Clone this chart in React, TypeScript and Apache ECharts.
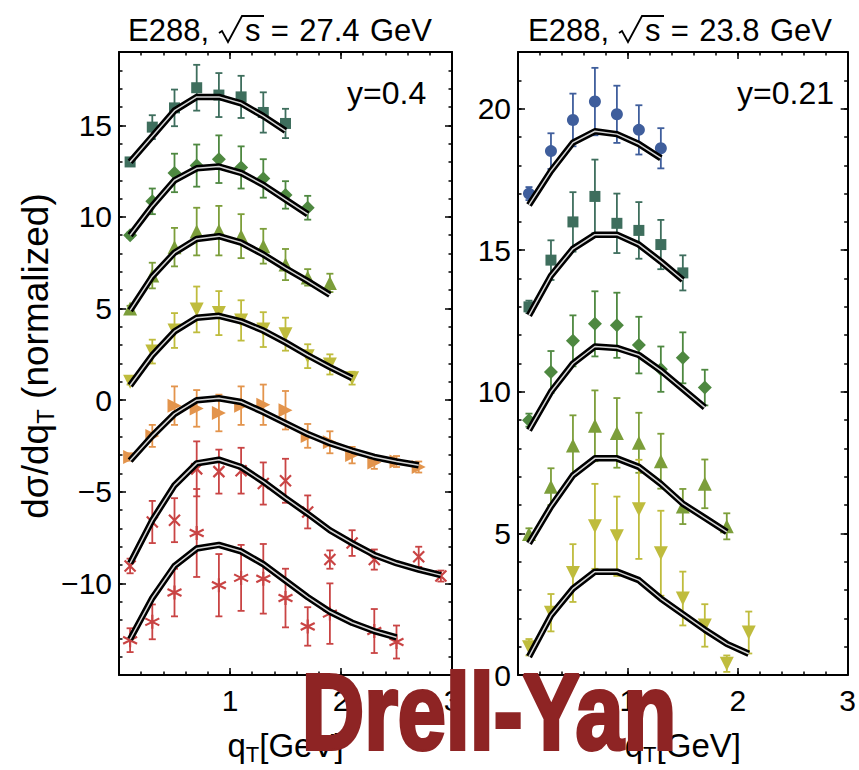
import React, { useEffect, useRef } from 'react';
import * as echarts from 'echarts';

const FONT = '"Liberation Sans", Arial, Helvetica, sans-serif';

// ---------- Left panel: E288, sqrt(s)=27.4 GeV, y=0.4 ----------
const L1_X = [0.1, 0.3, 0.5, 0.7, 0.9, 1.1, 1.3, 1.5];
const L1_V = [13.0, 14.9, 15.95, 17.05, 16.65, 16.55, 15.7, 15.1];
const L1_E = [0.15, 0.65, 1.0, 1.25, 1.2, 1.15, 1.1, 0.8];
const L1_C = [13.0, 14.4, 15.8, 16.55, 16.55, 16.2, 15.5, 14.7];

const L2_X = [0.1, 0.3, 0.5, 0.7, 0.9, 1.1, 1.3, 1.5, 1.7];
const L2_V = [9.0, 10.85, 12.4, 12.8, 13.15, 12.7, 12.1, 11.2, 10.5];
const L2_E = [0.15, 0.7, 1.05, 1.15, 1.3, 1.15, 1.05, 0.75, 0.65];
const L2_C = [9.0, 10.6, 12.0, 12.65, 12.75, 12.4, 11.75, 10.95, 10.15];

const L3_X = [0.1, 0.3, 0.5, 0.7, 0.9, 1.1, 1.3, 1.5, 1.7, 1.9];
const L3_V = [5.0, 6.8, 8.35, 9.2, 9.25, 8.95, 8.4, 7.4, 6.7, 6.4];
const L3_E = [0.15, 0.7, 1.05, 1.3, 1.35, 1.2, 0.95, 0.85, 0.45, 0.5];
const L3_C = [4.9, 6.75, 8.05, 8.8, 8.95, 8.6, 7.95, 7.2, 6.5, 5.75];

const L4_X = [0.1, 0.3, 0.5, 0.7, 0.9, 1.1, 1.3, 1.5, 1.7, 1.9, 2.1];
const L4_V = [1.0, 2.65, 3.8, 4.95, 4.75, 4.35, 3.85, 3.6, 2.4, 1.95, 1.2];
const L4_E = [0.15, 0.65, 0.95, 1.25, 1.2, 1.1, 0.95, 0.9, 0.65, 0.55, 0.35];
const L4_C = [0.8, 2.45, 3.75, 4.5, 4.6, 4.3, 3.8, 3.15, 2.45, 1.8, 1.2];

const L5_X = [0.1, 0.3, 0.5, 0.7, 0.9, 1.1, 1.3, 1.5, 1.7, 1.9, 2.1, 2.3, 2.5, 2.7];
const L5_V = [-3.1, -1.95, -0.3, -0.45, -0.7, -0.3, -0.25, -0.55, -1.95, -2.3, -3.0, -3.4, -3.35, -3.65];
const L5_E = [0.2, 0.6, 1.05, 1.0, 1.0, 1.05, 1.1, 1.05, 0.65, 0.6, 0.45, 0.35, 0.3, 0.3];
const L5_C = [-3.3, -1.95, -0.75, 0.0, 0.1, -0.1, -0.65, -1.25, -1.85, -2.35, -2.75, -3.1, -3.35, -3.55];

const L6_X = [0.1, 0.3, 0.5, 0.7, 0.9, 1.1, 1.3, 1.5, 1.7, 1.9, 2.1, 2.3, 2.7, 2.9];
const L6_V = [-9.05, -6.65, -6.55, -3.75, -3.9, -3.85, -4.55, -4.4, -6.1, -8.7, -7.8, -8.7, -8.55, -9.6];
const L6_E = [0.4, 1.15, 1.2, 1.5, 1.2, 1.25, 1.15, 1.2, 0.9, 0.5, 0.7, 0.55, 0.55, 0.3];
const L6_CX = [0.1, 0.3, 0.5, 0.7, 0.9, 1.1, 1.3, 1.5, 1.7, 1.9, 2.1, 2.3, 2.5, 2.7, 2.9];
const L6_C = [-8.9, -6.55, -4.65, -3.45, -3.25, -3.65, -4.45, -5.35, -6.2, -7.1, -7.8, -8.45, -8.9, -9.25, -9.55];

const L7_X = [0.1, 0.3, 0.5, 0.7, 0.9, 1.1, 1.3, 1.5, 1.7, 1.9, 2.3, 2.5];
const L7_V = [-13.1, -12.1, -10.5, -7.25, -10.1, -9.7, -9.75, -10.8, -12.35, -11.65, -12.6, -13.2];
const L7_E = [0.65, 0.95, 1.3, 2.4, 1.7, 1.8, 1.9, 1.6, 1.05, 1.65, 1.2, 0.9];
const L7_CX = [0.1, 0.3, 0.5, 0.7, 0.9, 1.1, 1.3, 1.5, 1.7, 1.9, 2.1, 2.3, 2.5];
const L7_C = [-13.05, -10.8, -9.05, -8.1, -7.9, -8.25, -8.95, -9.85, -10.75, -11.55, -12.15, -12.6, -12.95];

// ---------- Right panel: E288, sqrt(s)=23.8 GeV, y=0.21 ----------
const R1_X = [0.1, 0.3, 0.5, 0.7, 0.9, 1.1, 1.3];
const R1_V = [17.0, 18.5, 19.6, 20.25, 19.8, 19.25, 18.6];
const R1_E = [0.23, 0.63, 0.93, 1.19, 1.01, 0.87, 0.71];
const R1_C = [16.6, 17.8, 18.8, 19.2, 19.1, 18.75, 18.25];

const R2_X = [0.1, 0.3, 0.5, 0.7, 0.9, 1.1, 1.3, 1.5];
const R2_V = [13.0, 14.65, 16.0, 16.9, 15.95, 15.7, 15.2, 14.2];
const R2_E = [0.22, 0.7, 1.05, 1.3, 1.05, 1.0, 0.87, 0.62];
const R2_C = [12.7, 14.1, 15.05, 15.55, 15.55, 15.2, 14.6, 13.95];

const R3_X = [0.1, 0.3, 0.5, 0.7, 0.9, 1.1, 1.3, 1.5, 1.7];
const R3_V = [9.0, 10.7, 11.8, 12.4, 12.35, 11.65, 10.8, 11.2, 10.15];
const R3_E = [0.23, 0.74, 0.9, 1.15, 1.15, 1.0, 0.8, 0.9, 0.63];
const R3_C = [8.65, 10.0, 11.0, 11.6, 11.55, 11.3, 10.75, 10.1, 9.45];

const R4_X = [0.1, 0.3, 0.5, 0.7, 0.9, 1.1, 1.3, 1.5, 1.7, 1.9];
const R4_V = [4.98, 6.65, 8.1, 8.8, 8.55, 8.2, 7.55, 5.95, 6.75, 5.25];
const R4_E = [0.2, 0.65, 1.07, 1.25, 1.23, 1.06, 0.97, 0.62, 0.86, 0.46];
const R4_C = [4.65, 5.95, 7.05, 7.65, 7.65, 7.35, 6.75, 6.05, 5.55, 5.05];

const R5_X = [0.1, 0.3, 0.5, 0.7, 0.9, 1.1, 1.3, 1.5, 1.7, 1.9, 2.1];
const R5_V = [0.98, 2.2, 3.6, 5.25, 4.9, 5.85, 4.3, 2.7, 1.75, 0.4, 1.5];
const R5_E = [0.29, 0.66, 1.02, 1.5, 1.4, 1.75, 1.5, 0.95, 0.75, 0.29, 0.74];
const R5_C = [0.65, 2.1, 3.05, 3.65, 3.65, 3.35, 2.7, 2.15, 1.6, 1.1, 0.75];

// axis ticks
const X_TICKS = [1, 2, 3];
const L_Y_TICKS = [-10, -5, 0, 5, 10, 15];
const R_Y_TICKS = [0, 5, 10, 15, 20];

const C_SQ = '#3E6E5D';
const C_DI = '#4E8840';
const C_UP = '#7C9E3A';
const C_DN = '#BFBC3D';
const C_RT = '#E3944C';
const C_RED = '#C94444';
const C_BL = '#3F5E9C';

const CROSS = 'path://M0,0L10,10M10,0L0,10';
const STAR = 'path://M5,0L5,10M0.67,2.5L9.33,7.5M0.67,7.5L9.33,2.5';

const LEFT = [
  { xs: L1_X, v: L1_V, e: L1_E, cx: L1_X, c: L1_C, sym: 'rect', size: 11, rot: 0, color: C_SQ },
  { xs: L2_X, v: L2_V, e: L2_E, cx: L2_X, c: L2_C, sym: 'diamond', size: 14, rot: 0, color: C_DI },
  { xs: L3_X, v: L3_V, e: L3_E, cx: L3_X, c: L3_C, sym: 'triangle', size: 14, rot: 0, color: C_UP },
  { xs: L4_X, v: L4_V, e: L4_E, cx: L4_X, c: L4_C, sym: 'triangle', size: 14, rot: 180, color: C_DN },
  { xs: L5_X, v: L5_V, e: L5_E, cx: L5_X, c: L5_C, sym: 'triangle', size: 14, rot: -90, color: C_RT },
  { xs: L6_X, v: L6_V, e: L6_E, cx: L6_CX, c: L6_C, sym: CROSS, size: 11, rot: 0, color: C_RED },
  { xs: L7_X, v: L7_V, e: L7_E, cx: L7_CX, c: L7_C, sym: STAR, size: 14, rot: 0, color: C_RED },
];
const RIGHT = [
  { xs: R1_X, v: R1_V, e: R1_E, cx: R1_X, c: R1_C, sym: 'circle', size: 12, rot: 0, color: C_BL },
  { xs: R2_X, v: R2_V, e: R2_E, cx: R2_X, c: R2_C, sym: 'rect', size: 11, rot: 0, color: C_SQ },
  { xs: R3_X, v: R3_V, e: R3_E, cx: R3_X, c: R3_C, sym: 'diamond', size: 14, rot: 0, color: C_DI },
  { xs: R4_X, v: R4_V, e: R4_E, cx: R4_X, c: R4_C, sym: 'triangle', size: 14, rot: 0, color: C_UP },
  { xs: R5_X, v: R5_V, e: R5_E, cx: R5_X, c: R5_C, sym: 'triangle', size: 14, rot: 180, color: C_DN },
];

function buildSeries(sets: any[], ax: number): any[] {
  const out: any[] = [];
  sets.forEach((s) => {
    const isPath = typeof s.sym === 'string' && s.sym.indexOf('path://') === 0;
    out.push({
      type: 'custom', xAxisIndex: ax, yAxisIndex: ax, z: 2, silent: true, clip: false,
      data: s.xs.map((x: number, i: number) => [x, s.v[i] - s.e[i], s.v[i] + s.e[i]]),
      renderItem: (params: any, api: any) => {
        const lo = api.coord([api.value(0), api.value(1)]);
        const hi = api.coord([api.value(0), api.value(2)]);
        const w = 3.5;
        const st = { stroke: s.color, lineWidth: 1.8 };
        return {
          type: 'group',
          children: [
            { type: 'line', shape: { x1: lo[0], y1: lo[1], x2: hi[0], y2: hi[1] }, style: st },
            { type: 'line', shape: { x1: lo[0] - w, y1: lo[1], x2: lo[0] + w, y2: lo[1] }, style: st },
            { type: 'line', shape: { x1: hi[0] - w, y1: hi[1], x2: hi[0] + w, y2: hi[1] }, style: st },
          ],
        };
      },
    });
    out.push({
      type: 'scatter', xAxisIndex: ax, yAxisIndex: ax, z: 3, silent: true,
      data: s.xs.map((x: number, i: number) => [x, s.v[i]]),
      symbol: s.sym, symbolSize: s.size, symbolRotate: s.rot,
      itemStyle: { color: s.color, borderColor: s.color, borderWidth: isPath ? 2.2 : 0, opacity: 1 },
    });
    const cd = s.cx.map((x: number, i: number) => [x, s.c[i]]);
    out.push({
      type: 'line', xAxisIndex: ax, yAxisIndex: ax, z: 4, silent: true, data: cd,
      symbol: 'none', showSymbol: false, lineStyle: { color: '#000', width: 6.5, join: 'round' },
    });
    out.push({
      type: 'line', xAxisIndex: ax, yAxisIndex: ax, z: 5, silent: true, data: cd,
      symbol: 'none', showSymbol: false, lineStyle: { color: '#d6d6d6', width: 1.5, join: 'round' },
    });
  });
  return out;
}

const labelStyle = { color: '#000', fontSize: 30, fontFamily: FONT };
const nameRich = {
  a: { color: '#000', fontSize: 33, fontFamily: FONT },
  b: { color: '#000', fontSize: 22, fontFamily: FONT, padding: [18, 0, 0, 0] },
};

function xMain(grid: number, pos: string, labels: boolean) {
  return {
    type: 'value', gridIndex: grid, position: pos, min: 0, max: 3, interval: 1,
    axisLine: { show: true, onZero: false, lineStyle: { color: '#000', width: 2 } },
    axisTick: { show: true, inside: true, length: 7, lineStyle: { color: '#000', width: 1.5 } },
    axisLabel: {
      show: labels, margin: 10, ...labelStyle,
      formatter: (v: number) => (X_TICKS.indexOf(v) >= 0 ? String(v) : ''),
    },
    splitLine: { show: false },
    name: labels ? '{a|q}{b|T}{a|[GeV]}' : '',
    nameLocation: 'middle', nameGap: 50,
    nameTextStyle: { rich: nameRich },
  };
}
function xMinor(grid: number, pos: string) {
  return {
    type: 'value', gridIndex: grid, position: pos, min: 0, max: 3, interval: 0.2,
    axisLine: { show: false, onZero: false },
    axisTick: { show: true, inside: true, length: 3.5, lineStyle: { color: '#000', width: 1.5 } },
    axisLabel: { show: false }, splitLine: { show: false },
  };
}
function yMain(grid: number, pos: string, labels: boolean, min: number, max: number, ticks: number[]) {
  return {
    type: 'value', gridIndex: grid, position: pos, min, max, interval: 5,
    axisLine: { show: true, onZero: false, lineStyle: { color: '#000', width: 2 } },
    axisTick: { show: true, inside: true, length: 7, lineStyle: { color: '#000', width: 1.5 } },
    axisLabel: {
      show: labels, margin: 7, ...labelStyle,
      formatter: (v: number) => (ticks.indexOf(v) >= 0 ? String(v).replace('-', '\u2212') : ''),
    },
    splitLine: { show: false },
  };
}
function yMinor(grid: number, pos: string, min: number, max: number) {
  return {
    type: 'value', gridIndex: grid, position: pos, min, max, interval: 1,
    axisLine: { show: false, onZero: false },
    axisTick: { show: true, inside: true, length: 3.5, lineStyle: { color: '#000', width: 1.5 } },
    axisLabel: { show: false }, splitLine: { show: false },
  };
}

function titleGraphics(x0: number, rest: string) {
  return [
    { type: 'text', x: x0, y: 30, style: { text: 'E288,', fontSize: 31, fontFamily: FONT, fill: '#000', align: 'left', verticalAlign: 'middle' } },
    {
      type: 'polyline',
      shape: { points: [[x0 + 91, 33], [x0 + 94, 31], [x0 + 100, 42], [x0 + 114, 16], [x0 + 136, 16]] },
      style: { stroke: '#000', lineWidth: 1.8, fill: null },
    },
    { type: 'text', x: x0 + 117, y: 30, style: { text: rest, fontSize: 31, fontFamily: FONT, fill: '#000', align: 'left', verticalAlign: 'middle' } },
  ];
}

const option: any = {
  animation: false,
  backgroundColor: '#fff',
  grid: [
    { left: 119, top: 52, width: 333, height: 640 },
    { left: 518, top: 52, width: 334, height: 640 },
  ],
  xAxis: [
    xMain(0, 'bottom', true), xMain(0, 'top', false), xMinor(0, 'bottom'), xMinor(0, 'top'),
    xMain(1, 'bottom', true), xMain(1, 'top', false), xMinor(1, 'bottom'), xMinor(1, 'top'),
  ],
  yAxis: [
    yMain(0, 'left', true, -15, 19, L_Y_TICKS), yMain(0, 'right', false, -15, 19, L_Y_TICKS), yMinor(0, 'left', -15, 19), yMinor(0, 'right', -15, 19),
    yMain(1, 'left', true, 0, 22, R_Y_TICKS), yMain(1, 'right', false, 0, 22, R_Y_TICKS), yMinor(1, 'left', 0, 22), yMinor(1, 'right', 0, 22),
  ],
  series: [...buildSeries(LEFT, 0), ...buildSeries(RIGHT, 4)],
  graphic: [
    ...titleGraphics(128, 's\u2004=\u200427.4\u2004GeV'),
    ...titleGraphics(528, 's\u2004=\u200423.8\u2004GeV'),
    { type: 'text', x: 347, y: 93, style: { text: 'y=0.4', fontSize: 32, fontFamily: FONT, fill: '#000', align: 'left', verticalAlign: 'middle' } },
    { type: 'text', x: 737, y: 93, style: { text: 'y=0.21', fontSize: 32, fontFamily: FONT, fill: '#000', align: 'left', verticalAlign: 'middle' } },
    {
      type: 'text', x: 35, y: 356, rotation: Math.PI / 2,
      style: {
        text: '{a|d\u03c3/dq}{b|T}{a| (normalized)}',
        align: 'center', verticalAlign: 'middle',
        rich: {
          a: { fontSize: 37, fontFamily: FONT, fill: '#000' },
          b: { fontSize: 24, fontFamily: FONT, fill: '#000', padding: [20, 0, 0, 0] },
        },
      },
    },
    {
      type: 'text', x: 489, y: 711, scaleX: 0.8, z: 100,
      style: {
        text: 'Drell-Yan', fontSize: 108, lineHeight: 92, fontWeight: 'bold', fontFamily: FONT,
        fill: '#8E2424', stroke: '#8E2424', lineWidth: 4,
        align: 'center', verticalAlign: 'middle',
      },
    },
  ],
};

const App = () => {
  const ref = useRef<HTMLDivElement>(null);
  useEffect(() => {
    const chart = echarts.init(ref.current as HTMLDivElement, undefined, { renderer: 'svg' });
    chart.setOption(option);
    return () => chart.dispose();
  }, []);
  return (
    <div
      ref={ref}
      style={{ position: 'fixed', left: 0, top: 0, width: 859, height: 770, background: '#fff' }}
    />
  );
};

export default App;
